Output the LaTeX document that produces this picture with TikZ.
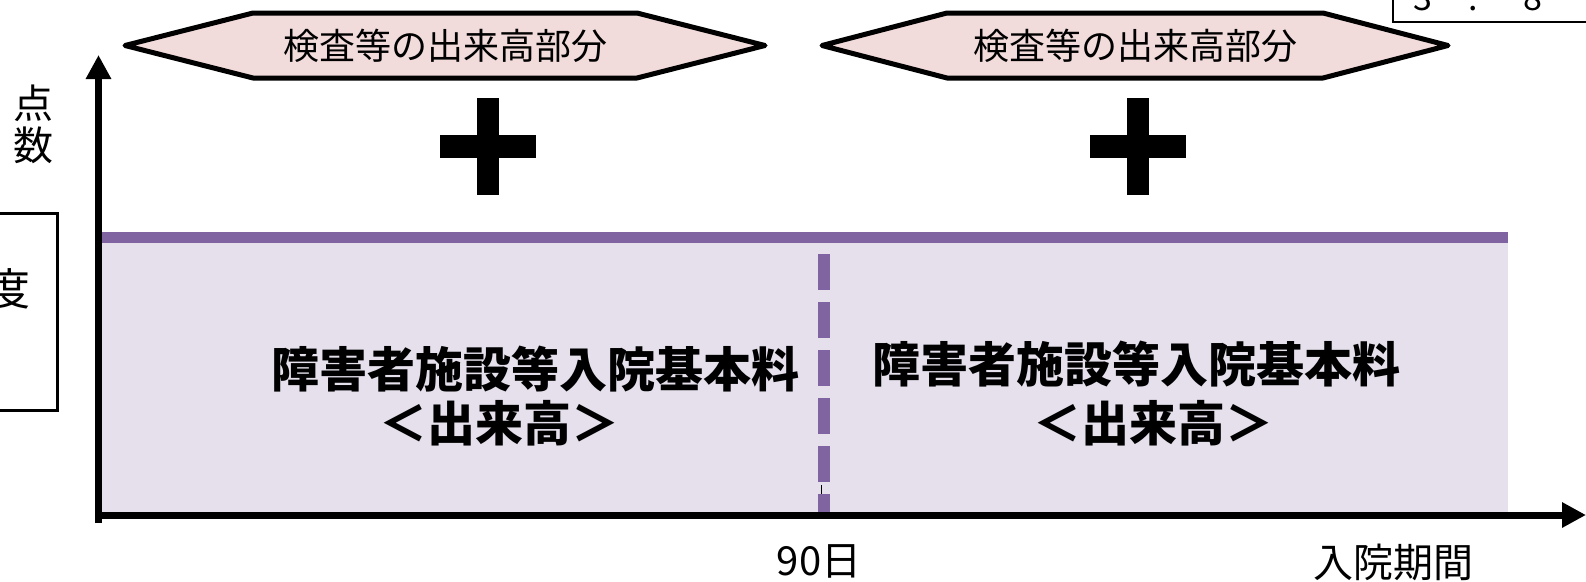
\documentclass[tikz,border=0pt]{standalone}
\usepackage{fontspec}
\setmainfont{Noto Sans CJK JP}
\usepackage{tikz}
\usetikzlibrary{arrows.meta}

\definecolor{rosa}{HTML}{F2DCDB}
\definecolor{lila}{HTML}{E5E0EC}
\definecolor{violett}{HTML}{8064A2}

\begin{document}
\begin{tikzpicture}[x=1pt, y=-1pt, >={Triangle[length=24pt, width=24pt]},
    hexa/.style={fill=rosa, draw=black, line width=5pt, line join=round},
    hexatext/.style={inner sep=0pt, font=\fontsize{36}{36}\selectfont},
    grundtext/.style={inner sep=0pt, font=\fontsize{48}{48}\selectfont\bfseries},
    achsentext/.style={inner sep=0pt, font=\fontsize{40}{40}\selectfont}]

    \useasboundingbox (0,0) rectangle (1586,581);
    % angeschnittene Kästen am Rand
    \begin{scope}
        \clip (0,0) rectangle (1586,581);
        \draw[line width=2pt] (1393,-30) -- (1393,22) -- (1600,22);
        \node[anchor=base west, inner sep=0pt, font=\fontsize{34}{34}\selectfont] (wert) at (1413,10) {3\hspace{36pt}.\hspace{46pt}8};
        \draw[line width=3pt] (-20,213) -- (57,213) -- (57,410) -- (-20,410);
        \node[inner sep=0pt, font=\fontsize{44}{44}\selectfont] (grad) at (9,289) {度};
    \end{scope}

    % Fläche und Linie
    \fill[lila] (100,237) rectangle (1508,512);
    \draw[violett, line width=11pt] (100,237) -- (1508,237);
    \draw[line width=1pt] (821,485) -- (821,512);
    \draw[violett, line width=12pt, dash pattern=on 36pt off 12pt] (824,254) -- (824,517);

    % Achsen
    \draw[->, line width=7pt] (98.5,523) -- (98.5,55);
    \draw[->, line width=7pt] (95,515) -- (1586,515);
    \node[achsentext, align=center] (punkte) at (33,124) {点\\[2pt]数};
    \node[achsentext] (tage) at (819,561) {90日};
    \node[achsentext] (dauer) at (1393,562) {入院期間};

    % Sechsecke oben
    \draw[hexa] (125,45.5) -- (253,13) -- (637,13) -- (765,45.5) -- (637,78) -- (253,78) -- cycle;
    \draw[hexa] (822,45.5) -- (947,13) -- (1323,13) -- (1448,45.5) -- (1323,78) -- (947,78) -- cycle;
    \node[hexatext] (kensa1) at (445,46) {検査等の出来高部分};
    \node[hexatext] (kensa2) at (1135,46) {検査等の出来高部分};

    % Pluszeichen
    \foreach \cx in {488,1138} {
        \fill (\cx-11,98) rectangle (\cx+11,195);
        \fill (\cx-48,135) rectangle (\cx+48,158);
    }

    % Grundbetrag
    \node[grundtext] (kihon1) at (535,369) {障害者施設等入院基本料};
    \node[grundtext] (deki1) at (499,423) {＜出来高＞};
    \node[grundtext] (kihon2) at (1136,364) {障害者施設等入院基本料};
    \node[grundtext] (deki2) at (1153,423) {＜出来高＞};

\end{tikzpicture}
\end{document}
